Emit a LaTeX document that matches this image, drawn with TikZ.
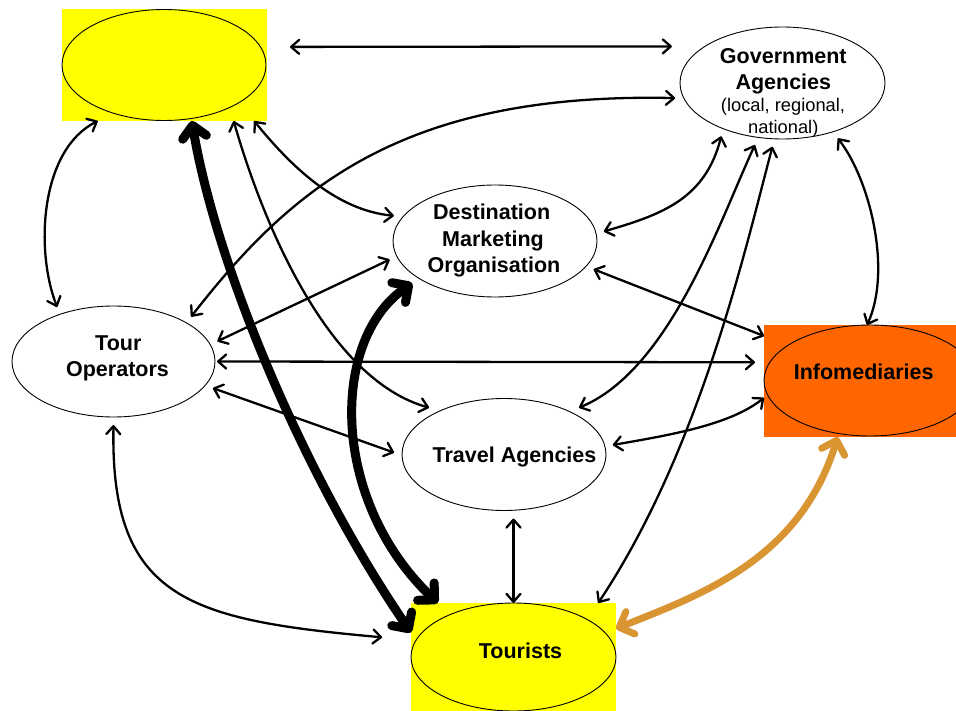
\documentclass[tikz,border=0pt]{standalone}
\usepackage{fontspec}
\setmainfont{Liberation Sans}
\usetikzlibrary{arrows.meta,shapes.geometric}
\definecolor{hostyellow}{RGB}{255,255,0}
\definecolor{infoorange}{RGB}{255,102,0}
\definecolor{linkorange}{RGB}{217,149,50}
\begin{document}
\begin{tikzpicture}[x=1pt,y=-1pt,
  ell/.style={ellipse,draw,line width=0.9pt,inner sep=0pt,outer sep=8pt,minimum width=204pt,minimum height=112pt},
  fillbox/.style={rectangle,inner sep=0pt,outer sep=0pt},
  link/.style={>={Straight Barb[round,length=8pt,width=14pt]},<->,line width=2.3pt,line cap=round},
  heavylink/.style={>={Straight Barb[round,length=12pt,width=24pt]},<->,line width=9pt,line cap=round},
  orangelink/.style={heavylink,draw=linkorange,line width=7pt},
  lbl/.style={anchor=base,inner sep=0pt,font=\fontsize{21.5}{26}\selectfont\bfseries},
  smalllbl/.style={anchor=base,inner sep=0pt,font=\fontsize{18.3}{21}\selectfont}]
\useasboundingbox (0,0) rectangle (956,711);
\clip (0,0) rectangle (956,711);
% nodes
\node[fillbox,fill=hostyellow,minimum width=205pt,minimum height=112pt] (hostrect) at (164.5,65) {};
\node[ell,fill=hostyellow,outer sep=0pt,minimum width=204pt,minimum height=111pt] (host) at (164,65) {};
\node[ell,minimum width=205pt] (gov) at (782.5,83) {};
\node[ell] (dmo) at (495,241) {};
\node[ell,minimum width=203pt,minimum height=111pt] (tourop) at (113.5,361.5) {};
\node[ell] (ta) at (504,454.5) {};
\node[fillbox,fill=infoorange,minimum width=212pt,minimum height=112pt] (inforect) at (870,381) {};
\node[ell,fill=infoorange,outer sep=0pt,minimum width=212pt,minimum height=111pt] (info) at (870,380.5) {};
\node[fillbox,fill=hostyellow,minimum width=205pt,minimum height=110pt] (tourrect) at (513.5,658) {};
\node[ell,fill=hostyellow,outer sep=0pt,minimum width=205pt,minimum height=108pt] (tour) at (513.5,657) {};
% connectors
\draw[link,shorten <=23pt,shorten >=20pt] (hostrect.10) -- (gov.158);
\draw[link] (tourop.30) .. controls (290,190) and (400,92) .. (gov.188);
\draw[link] (hostrect.220) .. controls (40,150) and (35,250) .. (tourop.136);
\draw[link] (hostrect.-39) .. controls (265,230) and (330,380) .. (ta.148);
\draw[link] (hostrect.-32) .. controls (290,165) and (335,210) .. (dmo.166);
\draw[link] (tourop.11) -- (dmo.190);
\draw[link,shorten <=-6pt,shorten >=9pt] (tourop.0) -- (inforect.170);
\draw[link] (tourop.-15) -- (ta.179);
\draw[link,shorten >=29pt] (tourop.-90) .. controls (110,600) and (190,620) .. (tourrect.170);
\draw[link] (dmo.5) .. controls (660,215) and (705,200) .. (gov.221);
\draw[link] (dmo.-16) -- (inforect.157);
\draw[link] (gov.246) .. controls (720,220) and (670,370) .. (ta.32);
\draw[link] (gov.261) .. controls (745,250) and (700,450) .. (tourrect.33);
\draw[link] (gov.-45) .. controls (870,180) and (892,270) .. (inforect.93);
\draw[link] (ta.5) .. controls (670,435) and (730,425) .. (inforect.189);
\draw[link] (ta.south -| tourrect.north) -- (tourrect.north);
\draw[heavylink] (hostrect.-64) .. controls (215,260) and (300,470) .. (tourrect.166);
\draw[heavylink] (dmo.207) .. controls (330,340) and (330,500) .. (tourrect.144);
\draw[orangelink] (tourrect.16) .. controls (700,595) and (800,560) .. (inforect.240);
% texts
\node[lbl] (govt1) at (783.3,63.3) {Government};
\node[lbl] (govt2) at (783.3,89.3) {Agencies};
\node[smalllbl] (govt3) at (783,111.7) {(local, regional,};
\node[smalllbl] (govt4) at (783.3,133.3) {national)};
\node[lbl] (dmot1) at (491.7,220) {Destination};
\node[lbl] (dmot2) at (493,247) {Marketing};
\node[lbl] (dmot3) at (494,272.7) {Organisation};
\node[lbl] (tot1) at (118.3,351) {Tour};
\node[lbl] (tot2) at (117.5,376.7) {Operators};
\node[lbl] (tat1) at (514.5,462.7) {Travel Agencies};
\node[lbl] (infot) at (863.7,379) {Infomediaries};
\node[lbl] (tourt) at (520.5,658.3) {Tourists};
\end{tikzpicture}
\end{document}
